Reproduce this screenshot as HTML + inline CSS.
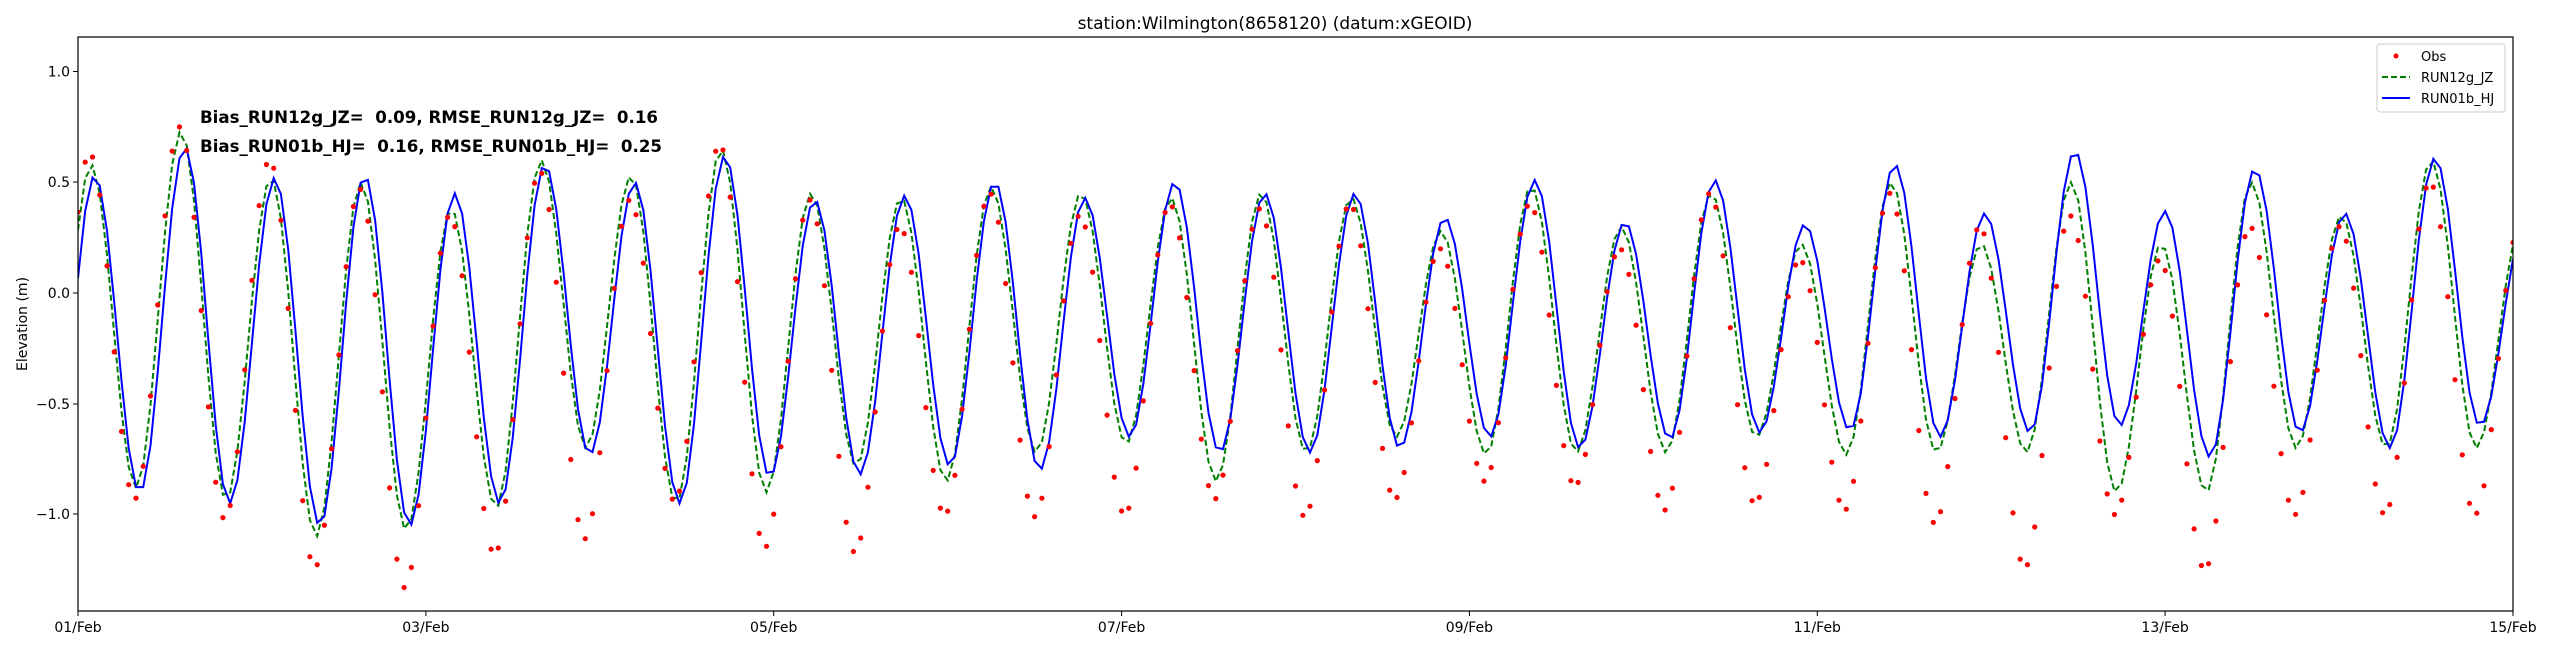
<!DOCTYPE html>
<html><head><meta charset="utf-8"><style>
html,body{margin:0;padding:0;background:#fff;}
svg{display:block;font-family:"DejaVu Sans","Liberation Sans",sans-serif;}
</style></head><body>
<svg id="s" width="2550" height="650" viewBox="0 0 2550 650" xmlns="http://www.w3.org/2000/svg">
<rect width="2550" height="650" fill="#fff"/>
<defs><clipPath id="c"><rect x="78" y="37" width="2435" height="574"/></clipPath></defs>
<g id="plot" clip-path="url(#c)"></g>
<rect x="78" y="37" width="2435" height="574" fill="none" stroke="#000" stroke-width="1.2"/>
<text x="1275" y="29" font-size="17" text-anchor="middle">station:Wilmington(8658120) (datum:xGEOID)</text>
<g font-size="14" text-anchor="end">
<text x="70" y="76.5">1.0</text><line x1="73" x2="78" y1="71.5" y2="71.5" stroke="#000"/>
<text x="70" y="187">0.5</text><line x1="73" x2="78" y1="182" y2="182" stroke="#000"/>
<text x="70" y="298">0.0</text><line x1="73" x2="78" y1="293" y2="293" stroke="#000"/>
<text x="70" y="409">−0.5</text><line x1="73" x2="78" y1="404" y2="404" stroke="#000"/>
<text x="70" y="519">−1.0</text><line x1="73" x2="78" y1="514" y2="514" stroke="#000"/>
</g>
<text transform="translate(27,324) rotate(-90)" font-size="14" text-anchor="middle">Elevation (m)</text>
<g font-size="14" text-anchor="middle">
<line x1="78" x2="78" y1="611" y2="616" stroke="#000"/><text x="78" y="632">01/Feb</text>
<line x1="425.9" x2="425.9" y1="611" y2="616" stroke="#000"/><text x="425.9" y="632">03/Feb</text>
<line x1="773.7" x2="773.7" y1="611" y2="616" stroke="#000"/><text x="773.7" y="632">05/Feb</text>
<line x1="1121.6" x2="1121.6" y1="611" y2="616" stroke="#000"/><text x="1121.6" y="632">07/Feb</text>
<line x1="1469.4" x2="1469.4" y1="611" y2="616" stroke="#000"/><text x="1469.4" y="632">09/Feb</text>
<line x1="1817.3" x2="1817.3" y1="611" y2="616" stroke="#000"/><text x="1817.3" y="632">11/Feb</text>
<line x1="2165.1" x2="2165.1" y1="611" y2="616" stroke="#000"/><text x="2165.1" y="632">13/Feb</text>
<line x1="2513" x2="2513" y1="611" y2="616" stroke="#000"/><text x="2513" y="632">15/Feb</text>
</g>
<g font-size="17" font-weight="bold" style="white-space:pre">
<text x="200" y="123" textLength="458" lengthAdjust="spacingAndGlyphs" xml:space="preserve">Bias_RUN12g_JZ=  0.09, RMSE_RUN12g_JZ=  0.16</text>
<text x="200" y="152" textLength="462" lengthAdjust="spacingAndGlyphs" xml:space="preserve">Bias_RUN01b_HJ=  0.16, RMSE_RUN01b_HJ=  0.25</text>
</g>
<rect x="2377" y="44" width="128" height="68" rx="3" fill="#fff" stroke="#ccc"/>
<circle cx="2396" cy="56" r="2.5" fill="red"/>
<line x1="2382" x2="2410" y1="77" y2="77" stroke="green" stroke-width="2" stroke-dasharray="6,3"/>
<line x1="2382" x2="2410" y1="98" y2="98" stroke="blue" stroke-width="2"/>
<g font-size="13"><text x="2421" y="61">Obs</text><text x="2421" y="82">RUN12g_JZ</text><text x="2421" y="103">RUN01b_HJ</text></g>
</svg>
<script>
(function(){
var X0=78,PXD=173.93,Y0=293,PY=221.5;
function X(h){return X0+h/24*PXD;}
function Y(v){return Y0-v*PY;}
var P=12.42;
function series(highs,lows,t0){
  var ext=[];
  for(var k=0;k<highs.length;k++){
    ext.push([t0+k*P-P/2, lows[k]]);
    ext.push([t0+k*P, highs[k]]);
  }
  ext.push([t0+highs.length*P-P/2, lows[lows.length-1]]);
  ext.push([t0+highs.length*P, highs[highs.length-1]]);
  ext.unshift([t0-P, highs[0]]);
  return function(t){
    for(var i=0;i<ext.length-1;i++){
      if(t>=ext[i][0]&&t<=ext[i+1][0]){
        var f=(t-ext[i][0])/(ext[i+1][0]-ext[i][0]);
        var w=(1-Math.cos(Math.PI*f))/2;
        return ext[i][1]+(ext[i+1][1]-ext[i][1])*w;
      }
    }
    return ext[ext.length-1][1];
  };
}
var bH=[0.53,0.66,0.52,0.53,0.45,0.58,0.5,0.62,0.42,0.44,0.5,0.43,0.5,0.45,0.45,0.34,0.51,0.32,0.51,0.31,0.58,0.36,0.64,0.37,0.56,0.36,0.61,0.3];
var bL=[-1.0,-0.9,-0.95,-1.05,-1.05,-0.95,-0.73,-0.95,-0.83,-0.82,-0.78,-0.8,-0.65,-0.72,-0.72,-0.7,-0.65,-0.7,-0.66,-0.63,-0.62,-0.65,-0.63,-0.6,-0.74,-0.63,-0.7,-0.6];
var gH=[0.58,0.73,0.52,0.5,0.38,0.6,0.53,0.65,0.45,0.43,0.48,0.45,0.43,0.45,0.43,0.28,0.48,0.3,0.45,0.22,0.5,0.22,0.5,0.22,0.5,0.35,0.6,0.3];
var gL=[-0.95,-0.88,-0.93,-1.1,-1.07,-0.97,-0.7,-0.95,-0.9,-0.78,-0.85,-0.72,-0.68,-0.85,-0.72,-0.65,-0.73,-0.72,-0.72,-0.65,-0.73,-0.72,-0.72,-0.9,-0.9,-0.7,-0.7,-0.7];
var oH=[0.63,0.75,0.6,0.47,0.35,0.55,0.42,0.67,0.42,0.3,0.45,0.35,0.4,0.38,0.4,0.2,0.4,0.2,0.45,0.15,0.45,0.3,0.35,0.15,0.3,0.3,0.5,0.3];
var oL=[-1.08,-0.93,-1.02,-1.24,-1.33,-1.18,-1.11,-0.94,-1.15,-1.17,-1.0,-1.01,-1.0,-0.93,-1.01,-0.93,-0.85,-0.87,-0.98,-0.95,-0.98,-1.04,-1.24,-1.0,-1.25,-1.0,-1.0,-1.0];
var fb=series(bH,bL,2.3), fg=series(gH,gL,1.8), fo=series(oH,oL,1.6);
var g=document.getElementById('plot'),NS='http://www.w3.org/2000/svg';
function line(f,col,dash){
  var d='';
  for(var h=0;h<=336;h++){d+=(h?'L':'M')+X(h).toFixed(1)+','+Y(f(h)).toFixed(1);}
  var p=document.createElementNS(NS,'path');
  p.setAttribute('d',d);p.setAttribute('fill','none');p.setAttribute('stroke',col);
  p.setAttribute('stroke-width','2');if(dash)p.setAttribute('stroke-dasharray',dash);
  g.appendChild(p);
}
line(fg,'green','6,3');
line(fb,'blue');
for(var h=0;h<=336;h++){
  var c=document.createElementNS(NS,'circle');
  c.setAttribute('cx',X(h).toFixed(1));c.setAttribute('cy',Y(fo(h)).toFixed(1));
  c.setAttribute('r','2.6');c.setAttribute('fill','red');g.appendChild(c);
}
})();
</script>
</body></html>
